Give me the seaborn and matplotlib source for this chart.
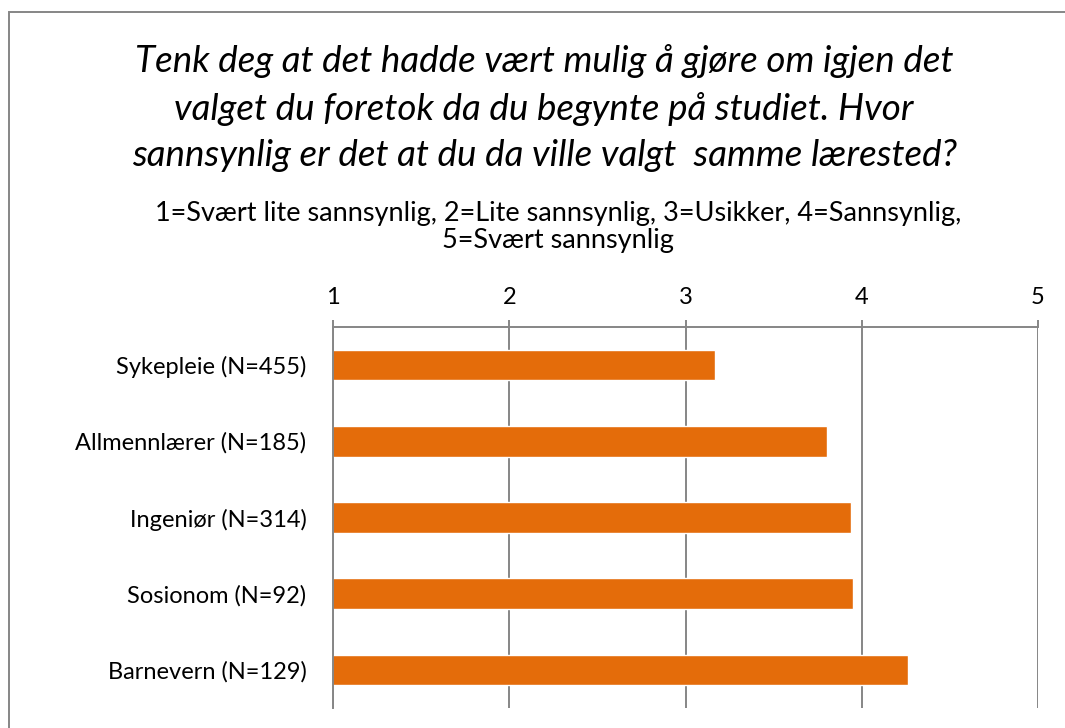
import matplotlib
matplotlib.use("Agg")
import matplotlib.pyplot as plt
import matplotlib.patches as mpatches
import seaborn as sns
import numpy as np

categories = [
    "Sykepleie (N=455)",
    "Allmennlærer (N=185)",
    "Ingeniør (N=314)",
    "Sosionom (N=92)",
    "Barnevern (N=129)",
]
values = [3.17, 3.80, 3.94, 3.95, 4.26]
x_ticks = [1, 2, 3, 4, 5]

title = ("Tenk deg at det hadde vært mulig å gjøre om igjen det\n"
         "valget du foretok da du begynte på studiet. Hvor\n"
         "sannsynlig er det at du da ville valgt  samme lærested?")
subtitle = ("1=Svært lite sannsynlig, 2=Lite sannsynlig, 3=Usikker, 4=Sannsynlig,\n"
            "5=Svært sannsynlig")

sns.set_style("white")
plt.rcParams["font.family"] = ["Lato", "DejaVu Sans"]
plt.rcParams["text.color"] = "black"
plt.rcParams["xtick.color"] = "black"
plt.rcParams["ytick.color"] = "black"

bar_color = "#E46C0A"
grid_color = "#868686"

fig = plt.figure(figsize=(10.65, 7.28), dpi=100)
ax = fig.add_axes([333 / 1065, 1 - 708 / 728, (1038 - 333) / 1065, (708 - 327) / 728])

sns.barplot(x=values, y=categories, orient="h", color=bar_color,
            width=0.4, saturation=1, ax=ax)

ax.set_xlim(1, 5)
ax.set_ylim(4.5, -0.5)
ax.xaxis.tick_top()
ax.set_xticks(x_ticks)
ax.set_xticklabels([str(t) for t in x_ticks])
ax.grid(axis="x", color=grid_color, linewidth=1.4)
ax.set_axisbelow(True)
ax.tick_params(axis="x", direction="out", length=5, width=1.4,
               color=grid_color, labelcolor="black", labelsize=17, pad=9)
ax.tick_params(axis="y", which="major", length=0, labelsize=17,
               labelcolor="black", pad=19)
ax.set_yticks(np.arange(-0.5, len(categories), 1), minor=True)
ax.tick_params(axis="y", which="minor", direction="out", length=5,
               width=1.4, color=grid_color)
ax.set_xlabel("")
ax.set_ylabel("")

for side in ["right", "bottom"]:
    ax.spines[side].set_visible(False)
for side in ["top", "left"]:
    ax.spines[side].set_color(grid_color)
    ax.spines[side].set_linewidth(1.4)

fig.text(0.511, 1 - 108 / 728, title, ha="center", va="center",
         fontsize=26.5, style="italic", linespacing=1.5, color="black")
fig.text(0.524, 1 - 227 / 728, subtitle, ha="center", va="center",
         fontsize=19.5, linespacing=1.1, color="black")

# outer chart frame
frame = mpatches.Rectangle((9 / 1065, -0.05), 1.1, 1.05 - 12 / 728,
                           transform=fig.transFigure, fill=False,
                           edgecolor=grid_color, linewidth=1.4, clip_on=False)
fig.patches.append(frame)

fig.savefig("out.png", dpi=100)
